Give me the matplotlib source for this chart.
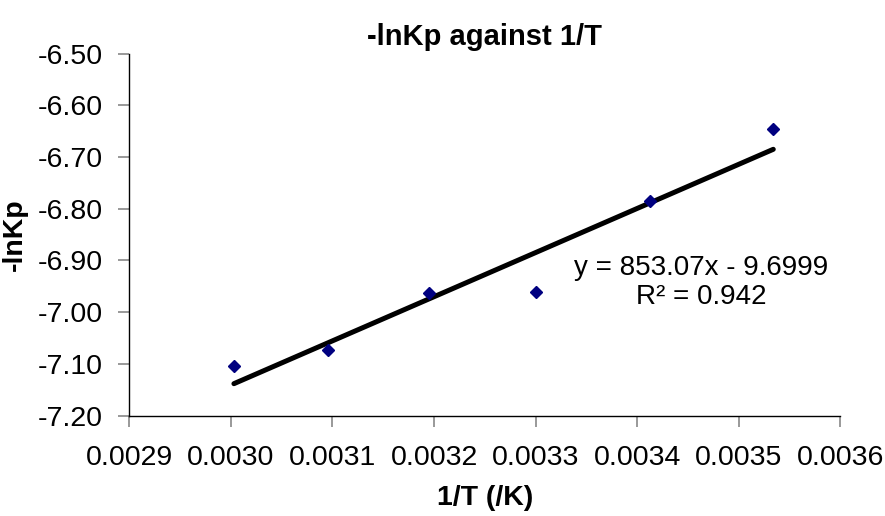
import numpy as np
import matplotlib.pyplot as plt

# data
inv_T = [0.003003, 0.003096, 0.003195, 0.003300, 0.003413, 0.003534]
neg_lnKp = [-7.103, -7.073, -6.962, -6.960, -6.786, -6.645]

# Excel trendline as printed on the chart
slope = 853.07
intercept = -9.6999
r_squared = 0.942

x_ticks = [0.0029, 0.0030, 0.0031, 0.0032, 0.0033, 0.0034, 0.0035, 0.0036]
y_ticks = [-7.20, -7.10, -7.00, -6.90, -6.80, -6.70, -6.60, -6.50]

plt.rcParams['font.family'] = ['Liberation Sans', 'DejaVu Sans']

fig = plt.figure(figsize=(8.85, 5.16), dpi=100)
ax = fig.add_axes([0.1461, 0.1944, 0.8034, 0.7019])

# trendline
xs = np.array([min(inv_T), max(inv_T)])
ax.plot(xs, slope * xs + intercept, color="black", lw=3.6,
        solid_capstyle="round", zorder=2)

# data points
ax.plot(inv_T, neg_lnKp, linestyle="none", marker="D", markersize=6,
        color="#000080", zorder=3)

ax.set_xlim(0.0029, 0.0036)
ax.set_ylim(-7.20, -6.50)
ax.set_xticks(x_ticks)
ax.set_yticks(y_ticks)
ax.set_xticklabels([f"{t:.4f}" for t in x_ticks])
ax.set_yticklabels([f"{t:.2f}" for t in y_ticks])

for s in ["top", "right"]:
    ax.spines[s].set_visible(False)
for s in ["left", "bottom"]:
    ax.spines[s].set_linewidth(1.0)
    ax.spines[s].set_color("black")

ax.tick_params(axis="y", direction="out", length=8, width=1.2, color="#888888",
               pad=11, labelsize=20.5)
ax.tick_params(axis="x", direction="out", length=8, width=1.2, color="#888888",
               pad=13, labelsize=20.5)

ax.set_title("-lnKp against 1/T", fontsize=21, fontweight="bold", pad=6)
ax.set_xlabel("1/T (/K)", fontsize=20.5, fontweight="bold", labelpad=10)
ax.set_ylabel("-lnKp", fontsize=20.5, fontweight="bold", labelpad=7)

ax.text(0.003463, -6.942, f"y = {slope}x - {abs(intercept)}\nR² = {r_squared}",
        ha="center", va="center", fontsize=20, linespacing=1.15)

fig.savefig("out.png", dpi=100)
